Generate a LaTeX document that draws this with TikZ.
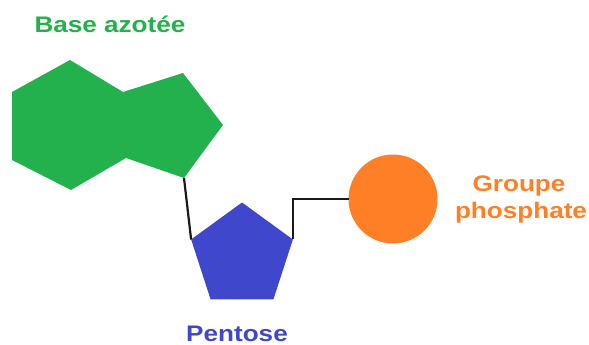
\documentclass[tikz,border=0pt]{standalone}
\usepackage{fontspec}
\setmainfont{Liberation Sans}
\usetikzlibrary{shapes.geometric}
\definecolor{basegreen}{HTML}{22B14C}
\definecolor{sugarblue}{HTML}{3F48CC}
\definecolor{phosorange}{HTML}{FF7F27}
\begin{document}
\begin{tikzpicture}[x=1pt,y=-1pt,
  label text/.style={font=\fontsize{22.5}{28}\selectfont\bfseries, xscale=1.16, transform shape, anchor=base, inner sep=0pt},
  bond/.style={draw=black!90, line width=2.2pt}]
\useasboundingbox (0,0) rectangle (589,345);

% nitrogenous base: fused six- and five-membered rings
\fill[basegreen] (70,60) -- (123,92) -- (183,73) -- (223,125) -- (184,178) -- (126,158)
  -- (71,190) -- (12,160) -- (12,92) -- cycle;
\coordinate (baseC) at (184,178);

% pentose sugar
\node[regular polygon, regular polygon sides=5, fill=sugarblue, minimum size=107pt, inner sep=0pt, outer sep=0pt] (pent) at (242,256) {};
\coordinate (pentL) at (pent.corner 2);
\coordinate (pentR) at (pent.corner 5);

% phosphate group
\node[circle, fill=phosorange, minimum size=89pt, inner sep=0pt, outer sep=0pt] (phos) at (393,199) {};

% bonds
\draw[bond] (baseC) -- (pentL);
\draw[bond] (pentR) |- (phos.west);

% labels
\node[label text, text=basegreen] (tbase) at (110,33) {Base azotée};
\node[label text, text=sugarblue] (tpent) at (237,341) {Pentose};
\node[label text, text=phosorange] (tgrp) at (519,191) {Groupe};
\node[label text, text=phosorange] (tphos) at (521,218) {phosphate};
\end{tikzpicture}
\end{document}
